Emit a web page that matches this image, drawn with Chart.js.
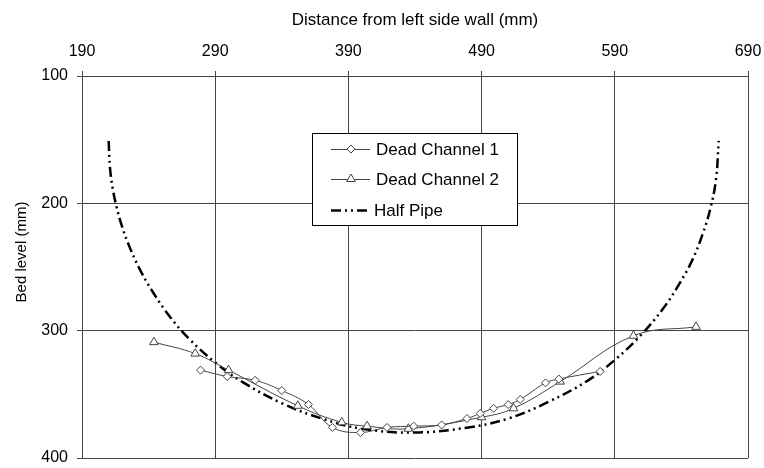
<!DOCTYPE html>
<html lang="en">
<head>
<meta charset="UTF-8">
<title>Bed level across the channel</title>
<script src="https://cdn.jsdelivr.net/npm/chart.js"></script>
<style>
  body { margin: 0; background: #fff; }
  #wrap { width: 764px; height: 468px; }
</style>
</head>
<body>
<div id="wrap"><canvas id="bedChart" width="764" height="468"></canvas></div>
<script>
  // Axis ticks
  const xTicks = [190, 290, 390, 490, 590, 690];
  const yTicks = [100, 200, 300, 400];

  // Dead Channel 1 (diamonds)
  const channel1X = [279, 299, 320, 340, 360, 378, 399, 419, 439, 460, 479, 489, 499, 510, 519, 538, 548, 579];
  const channel1Y = [331, 336, 339, 347, 358, 376, 380, 376, 375, 374, 369, 365, 361, 358, 354, 341, 338, 332];

  // Dead Channel 2 (triangles)
  const channel2X = [244, 275, 300, 352, 385, 404, 435, 490, 514, 549, 604, 651];
  const channel2Y = [309, 318, 331, 359, 372, 375, 377, 368, 361, 340, 304, 297];

  // Half pipe profile
  const pipeX = [210, 211, 213, 216, 220, 226, 234, 244, 256, 270, 290, 310, 340, 370, 400, 439,
                 480, 510, 540, 570, 590, 610, 626, 638, 648, 656, 662, 666, 668];
  const pipeY = [151, 172, 188, 203, 218, 235, 253, 271, 289, 306, 325, 340, 357, 369, 377, 380,
                 376, 369, 356, 339, 323, 303, 283, 264, 245, 224, 203, 181, 151];

  const FONT = "'Liberation Sans', Arial, sans-serif";
  const pipeDash = [10, 4, 2, 4, 2, 4];

  const pairs = (xs, ys) => xs.map((x, i) => ({ x: x, y: ys[i] }));

  // Legend box and rotated y title drawn straight onto the canvas
  const overlay = {
    id: 'overlay',
    afterDraw(chart) {
      const c = chart.ctx;
      c.save();
      // y axis title
      c.translate(22, 252);
      c.rotate(-Math.PI / 2);
      c.font = '15px ' + FONT;
      c.fillStyle = '#000';
      c.textAlign = 'center';
      c.textBaseline = 'middle';
      c.fillText('Bed level (mm)', 0, 0);
      c.restore();

      // legend
      c.save();
      c.fillStyle = '#fff';
      c.fillRect(312.5, 133.5, 205, 92);
      c.strokeStyle = '#000';
      c.lineWidth = 1;
      c.strokeRect(312.5, 133.5, 205, 92);

      c.font = '17px ' + FONT;
      c.fillStyle = '#000';
      c.textBaseline = 'middle';
      c.textAlign = 'left';

      const rows = [149, 179, 210];
      const styles = ['rectRot', 'triangle'];
      chart.data.datasets.forEach((ds, i) => {
        const y = rows[i];
        c.save();
        c.strokeStyle = ds.borderColor;
        c.lineWidth = ds.borderWidth;
        if (ds.borderDash) c.setLineDash(ds.borderDash);
        c.beginPath();
        c.moveTo(331, y + 0.5);
        c.lineTo(370, y + 0.5);
        c.stroke();
        c.restore();
        if (i < 2) {
          c.save();
          c.strokeStyle = ds.pointBorderColor;
          c.fillStyle = '#fff';
          c.lineWidth = 1;
          Chart.helpers.drawPoint(c, { pointStyle: styles[i], radius: ds.pointRadius, borderWidth: 1 }, 351, y);
          c.restore();
        }
        c.fillText(ds.label, i < 2 ? 376 : 374, y + 1);
      });
      c.restore();
    }
  };

  const ctx = document.getElementById('bedChart').getContext('2d');

  new Chart(ctx, {
    type: 'scatter',
    data: {
      datasets: [
        {
          label: 'Dead Channel 1',
          data: pairs(channel1X, channel1Y),
          showLine: true,
          borderColor: '#444',
          borderWidth: 1,
          tension: 0.4,
          pointStyle: 'rectRot',
          pointRadius: 4,
          pointBackgroundColor: '#fff',
          pointBorderColor: '#444',
          pointBorderWidth: 1
        },
        {
          label: 'Dead Channel 2',
          data: pairs(channel2X, channel2Y),
          showLine: true,
          borderColor: '#444',
          borderWidth: 1,
          tension: 0.4,
          pointStyle: 'triangle',
          pointRadius: 5,
          pointBackgroundColor: '#fff',
          pointBorderColor: '#444',
          pointBorderWidth: 1
        },
        {
          label: 'Half Pipe',
          data: pairs(pipeX, pipeY),
          showLine: true,
          borderColor: '#000',
          borderWidth: 2.5,
          borderDash: pipeDash,
          tension: 0.4,
          pointRadius: 0
        }
      ]
    },
    options: {
      responsive: false,
      animation: false,
      layout: { padding: { left: 0, right: 16, top: 0, bottom: 10 } },
      plugins: {
        legend: { display: false },
        tooltip: { enabled: false }
      },
      scales: {
        x: {
          type: 'linear',
          position: 'top',
          min: 190,
          max: 690,
          afterBuildTicks: s => { s.ticks = xTicks.map(v => ({ value: v })); },
          afterFit: s => { s.height = 76; s.paddingLeft = 0; s.paddingRight = 0; },
          grid: { color: '#444', lineWidth: 1, tickLength: 5 },
          border: { color: '#444' },
          ticks: { color: '#000', font: { family: FONT, size: 16 }, padding: 10, maxRotation: 0 },
          title: {
            display: true,
            text: 'Distance from left side wall (mm)',
            color: '#000',
            font: { family: FONT, size: 17 },
            padding: { top: 10, bottom: 0 }
          }
        },
        y: {
          type: 'linear',
          reverse: true,
          min: 100,
          max: 400,
          afterBuildTicks: s => { s.ticks = yTicks.map(v => ({ value: v })); },
          afterFit: s => { s.width = 82; s.paddingTop = 0; s.paddingBottom = 0; },
          grid: { color: '#444', lineWidth: 1, tickLength: 5 },
          border: { color: '#444' },
          ticks: { color: '#000', font: { family: FONT, size: 16 }, padding: 9 }
        }
      }
    },
    plugins: [overlay]
  });
</script>
</body>
</html>
